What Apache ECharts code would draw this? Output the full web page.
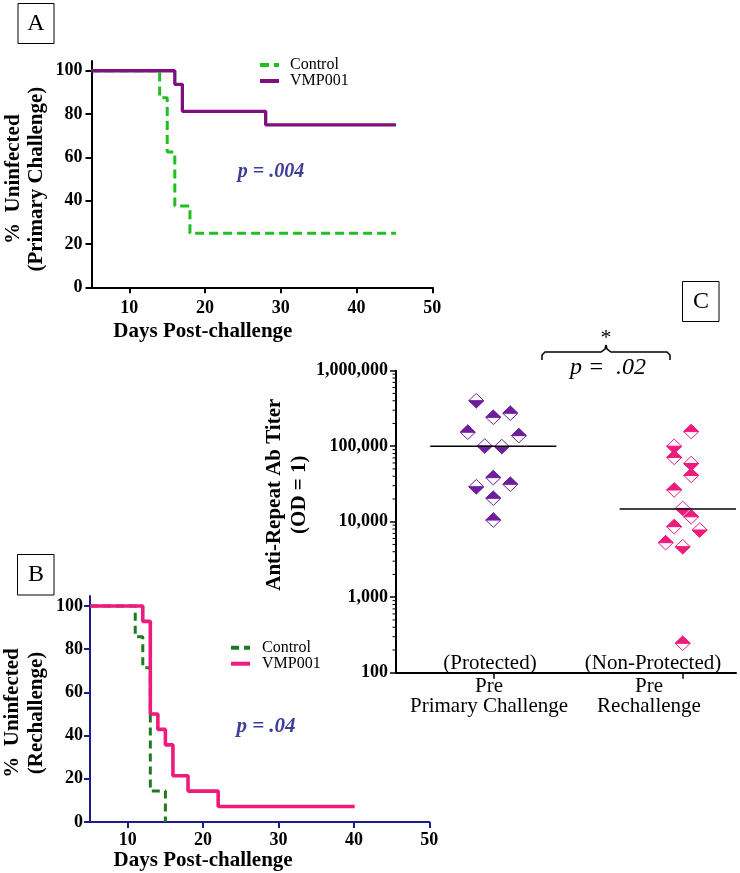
<!DOCTYPE html>
<html>
<head>
<meta charset="utf-8">
<script src="https://cdn.jsdelivr.net/npm/echarts@6/dist/echarts.min.js"></script>
<style>html,body{margin:0;padding:0;background:#fff}#c{width:740px;height:873px}</style>
</head>
<body>
<div id="c"></div>
<script>
// ---------- Panel A: primary challenge (Kaplan-Meier) ----------
const daysA_control = [5, 14, 15, 16, 18, 45.2];
const survA_control = [100, 87.5, 62.5, 37.5, 25, 25];
const daysA_vmp = [5, 16, 17, 28, 45.2];
const survA_vmp = [100, 93.75, 81.25, 75, 75];

// ---------- Panel B: rechallenge ----------
const daysB_control = [5, 11, 12, 13, 15];
const survB_control = [100, 85.71, 71.43, 14.29, 0];
const daysB_vmp = [5, 12, 13, 14, 15, 16, 18, 22, 40.1];
const survB_vmp = [100, 92.86, 50, 42.86, 35.71, 21.43, 14.29, 7.14, 7.14];

const survTicks = [0, 20, 40, 60, 80, 100];
const dayTicks = [10, 20, 30, 40, 50];
const pValueA = 'p = .004';
const pValueB = 'p = .04';

// ---------- Panel C: antibody titers ----------
const groupLabels = ['Pre\nPrimary Challenge', 'Pre\nRechallenge'];
const groupStatus = ['(Protected)', '(Non-Protected)'];
const titerProtected = [401000, 241000, 273000, 153000, 138000, 100700, 99000, 38300, 29100, 31300, 20400, 10500];
const slotProtected  = [-2, 0, 2, -3, 3, -1, 1, 0, -2, 2, 0, 0];
const halfProtected  = ['B', 'T', 'T', 'T', 'T', 'B', 'B', 'T', 'B', 'T', 'T', 'T'];
const titerNonProtected = [156000, 100000, 71000, 59000, 41000, 26300, 15000, 11600, 8600, 7760, 5270, 4670, 245];
const slotNonProtected  = [1, -1, -1, 1, 1, -1, 0, 1, -1, 2, -2, 0, 0];
const halfNonProtected  = ['T', 'B', 'T', 'B', 'T', 'T', 'B', 'T', 'T', 'B', 'T', 'B', 'T'];
const medianTiter = [100000, 14700];
const titerTicks = [100, 1000, 10000, 100000, 1000000];
const pValueC = 'p =  .02';

// ---------- styling ----------
const SERIF = "'Liberation Serif','Times New Roman',serif";
const C_PURPLE_LINE = '#7D107D';
const C_GREEN_A = '#1FBF1F';
const C_GREEN_B = '#1E7A1E';
const C_PINK = '#EE1A7C';
const C_PURPLE_MK = '#6E1E9C';
const C_PVAL = '#3E3E9A';
const C_NAVY = '#1C1C8C';
const SLOT_W = 0.0449;   // jitter step in category units
const MED_HALF = 0.333;  // half length of median bars in category units

const zip = (a, b) => a.map((v, i) => [v, b[i]]);

const minorTiter = [];
for (let k = 0; k < titerTicks.length - 1; k++) {
  for (let m = 2; m <= 9; m++) minorTiter.push(titerTicks[k] * m);
}

function diamondData(group, vals, slots, halves) {
  return vals.map((v, i) => [group + slots[i] * SLOT_W, v, halves[i] === 'T' ? 1 : 0]);
}

function diamondRender(color) {
  return function (params, api) {
    const p = api.coord([api.value(0), api.value(1)]);
    const w = 7.5, h = 7.2;
    const top = api.value(2) === 1;
    const half = top
      ? [[p[0] - w, p[1]], [p[0], p[1] - h], [p[0] + w, p[1]]]
      : [[p[0] - w, p[1]], [p[0], p[1] + h], [p[0] + w, p[1]]];
    return {
      type: 'group',
      children: [
        { type: 'polygon', shape: { points: [[p[0] - w, p[1]], [p[0], p[1] - h], [p[0] + w, p[1]], [p[0], p[1] + h]] },
          style: { fill: '#fff', stroke: color, lineWidth: 1 } },
        { type: 'polygon', shape: { points: half }, style: { fill: color, stroke: color, lineWidth: 1 } }
      ]
    };
  };
}

function medianRender(params, api) {
  const g = api.value(0), v = api.value(1);
  const a = api.coord([g - MED_HALF, v]);
  const b = api.coord([g + MED_HALF, v]);
  return { type: 'line', shape: { x1: a[0], y1: a[1], x2: b[0], y2: b[1] }, style: { stroke: '#000', lineWidth: 1.6 } };
}

function minorTickRender(params, api) {
  const p = api.coord([0.4863, api.value(0)]);
  return { type: 'line', shape: { x1: p[0] - 3.5, y1: p[1], x2: p[0], y2: p[1] }, style: { stroke: '#000', lineWidth: 1 } };
}

const tickLabelStyle = { fontFamily: SERIF, fontWeight: 'bold', fontSize: 18, color: '#000' };
const axisNameStyle = { fontFamily: SERIF, fontWeight: 'bold', fontSize: 21, color: '#000' };
const legendText = { fontFamily: SERIF, fontSize: 16, lineHeight: 16, color: '#000' };

const chart = echarts.init(document.getElementById('c'), null, { renderer: 'canvas' });

const option = {
  backgroundColor: '#fff',
  animation: false,
  grid: [
    { left: 91.5, top: 61, width: 340.8, height: 226.3 },
    { left: 89, top: 596, width: 340.3, height: 226 },
    { left: 396, top: 370.7, width: 340, height: 302 }
  ],
  xAxis: [
    { gridIndex: 0, type: 'value', min: 5, max: 50,
      axisLine: { lineStyle: { color: '#000', width: 2 } },
      axisTick: { customValues: dayTicks, length: 6, lineStyle: { color: '#000', width: 2 } },
      axisLabel: Object.assign({ customValues: dayTicks, margin: 12 }, tickLabelStyle),
      splitLine: { show: false },
      name: 'Days Post-challenge', nameLocation: 'middle', nameGap: 34,
      nameTextStyle: Object.assign({ padding: [0, 118, 0, 0] }, axisNameStyle) },
    { gridIndex: 1, type: 'value', min: 5, max: 50,
      axisLine: { lineStyle: { color: C_NAVY, width: 2 } },
      axisTick: { customValues: dayTicks, length: 6, lineStyle: { color: C_NAVY, width: 2 } },
      axisLabel: Object.assign({ customValues: dayTicks, margin: 9 }, tickLabelStyle),
      splitLine: { show: false },
      name: 'Days Post-challenge', nameLocation: 'middle', nameGap: 25,
      nameTextStyle: Object.assign({ padding: [0, 113, 0, 0] }, axisNameStyle) },
    { gridIndex: 2, type: 'value', min: 0.4863, max: 2.2815,
      axisLine: { lineStyle: { color: '#000', width: 2 } },
      axisTick: { customValues: [1, 2], length: 6, lineStyle: { color: '#000', width: 1.5 } },
      axisLabel: { show: false },
      splitLine: { show: false } }
  ],
  yAxis: [
    { gridIndex: 0, type: 'value', min: 0, max: 104.5,
      axisLine: { show: true, lineStyle: { color: '#000', width: 2 } },
      axisTick: { show: true, customValues: survTicks, length: 6, lineStyle: { color: '#000', width: 2 } },
      axisLabel: Object.assign({ customValues: survTicks, margin: 9 }, tickLabelStyle),
      splitLine: { show: false },
      name: '%  Uninfected\n(Primary Challenge)', nameLocation: 'middle', nameRotate: 90, nameGap: 43,
      nameTextStyle: Object.assign({ lineHeight: 23, padding: [0, 10, 0, 0] }, axisNameStyle) },
    { gridIndex: 1, type: 'value', min: 0, max: 104.6,
      axisLine: { show: true, lineStyle: { color: C_NAVY, width: 2 } },
      axisTick: { show: true, customValues: survTicks, length: 6, lineStyle: { color: C_NAVY, width: 2 } },
      axisLabel: Object.assign({ customValues: survTicks, margin: 7 }, tickLabelStyle),
      splitLine: { show: false },
      name: '%  Uninfected\n(Rechallenge)', nameLocation: 'middle', nameRotate: 90, nameGap: 41,
      nameTextStyle: Object.assign({ lineHeight: 24, padding: [0, 8, 0, 0] }, axisNameStyle) },
    { gridIndex: 2, type: 'log', logBase: 10, min: 100, max: 1000000,
      axisLine: { show: true, lineStyle: { color: '#000', width: 2 } },
      axisTick: { show: true, customValues: titerTicks, length: 6, lineStyle: { color: '#000', width: 1.5 } },
      axisLabel: Object.assign({ customValues: titerTicks, margin: 8,
        formatter: v => Number(v).toLocaleString('en-US') }, tickLabelStyle),
      splitLine: { show: false },
      name: 'Anti-Repeat Ab Titer\n(OD = 1)', nameLocation: 'middle', nameRotate: 90, nameGap: 57,
      nameTextStyle: Object.assign({ lineHeight: 25, padding: [0, 0, 0, 54] }, axisNameStyle) }
  ],
  legend: [
    { orient: 'vertical', left: 253, top: 52, itemWidth: 19, itemHeight: 14, itemGap: 0,
      data: ['Control', 'VMP001'],
      itemStyle: { opacity: 0 },
      lineStyle: { width: 4 },
      textStyle: Object.assign({ padding: [0, 0, 0, 6] }, legendText) },
    { orient: 'vertical', left: 224, top: 634.7, itemWidth: 19, itemHeight: 14, itemGap: 0,
      data: ['Control (B)', 'VMP001 (B)'],
      itemStyle: { opacity: 0 },
      lineStyle: { width: 4 },
      formatter: n => n.replace(' (B)', ''),
      textStyle: Object.assign({ padding: [0, 0, 0, 7] }, legendText) }
  ],
  series: [
    { type: 'line', name: 'Control', xAxisIndex: 0, yAxisIndex: 0, step: 'end', symbol: 'none',
      data: zip(daysA_control, survA_control), color: C_GREEN_A,
      lineStyle: { color: C_GREEN_A, width: 3, type: [9, 5] } },
    { type: 'line', name: 'VMP001', xAxisIndex: 0, yAxisIndex: 0, step: 'end', symbol: 'none',
      data: zip(daysA_vmp, survA_vmp), color: C_PURPLE_LINE,
      lineStyle: { color: C_PURPLE_LINE, width: 3.3 } },
    { type: 'line', name: 'Control (B)', xAxisIndex: 1, yAxisIndex: 1, step: 'end', symbol: 'none',
      data: zip(daysB_control, survB_control), color: C_GREEN_B,
      lineStyle: { color: C_GREEN_B, width: 3, type: [8, 5] } },
    { type: 'line', name: 'VMP001 (B)', xAxisIndex: 1, yAxisIndex: 1, step: 'end', symbol: 'none',
      data: zip(daysB_vmp, survB_vmp), color: C_PINK,
      lineStyle: { color: C_PINK, width: 3.6 } },
    { type: 'custom', name: 'Protected', xAxisIndex: 2, yAxisIndex: 2, clip: true,
      renderItem: diamondRender(C_PURPLE_MK), encode: { x: 0, y: 1 },
      data: diamondData(1, titerProtected, slotProtected, halfProtected) },
    { type: 'custom', name: 'Non-Protected', xAxisIndex: 2, yAxisIndex: 2, clip: true,
      renderItem: diamondRender(C_PINK), encode: { x: 0, y: 1 },
      data: diamondData(2, titerNonProtected, slotNonProtected, halfNonProtected) },
    { type: 'custom', name: 'Median', xAxisIndex: 2, yAxisIndex: 2, clip: true, z: 5,
      renderItem: medianRender, encode: { x: 0, y: 1 },
      data: medianTiter.map((v, i) => [i + 1, v]) },
    { type: 'custom', name: 'MinorTicks', xAxisIndex: 2, yAxisIndex: 2, clip: false, silent: true,
      renderItem: minorTickRender, encode: { y: 0 },
      data: minorTiter.map(v => [v]) }
  ],
  graphic: [
    { type: 'rect', shape: { x: 18, y: 3.5, width: 36, height: 40 }, style: { fill: '#fff', stroke: '#000', lineWidth: 1 } },
    { type: 'text', style: { text: 'A', x: 36, y: 24, font: '24px ' + SERIF, fill: '#000', align: 'center', verticalAlign: 'middle' } },
    { type: 'rect', shape: { x: 17.5, y: 554.5, width: 36.5, height: 40.5 }, style: { fill: '#fff', stroke: '#000', lineWidth: 1 } },
    { type: 'text', style: { text: 'B', x: 36, y: 575, font: '24px ' + SERIF, fill: '#000', align: 'center', verticalAlign: 'middle' } },
    { type: 'rect', shape: { x: 682.5, y: 281.5, width: 36.5, height: 40 }, style: { fill: '#fff', stroke: '#000', lineWidth: 1 } },
    { type: 'text', style: { text: 'C', x: 701, y: 302, font: '24px ' + SERIF, fill: '#000', align: 'center', verticalAlign: 'middle' } },
    { type: 'text', style: { text: pValueA, x: 271, y: 172, font: 'italic bold 20px ' + SERIF, fill: C_PVAL, align: 'center', verticalAlign: 'middle' } },
    { type: 'text', style: { text: pValueB, x: 266, y: 727, font: 'italic bold 21px ' + SERIF, fill: C_PVAL, align: 'center', verticalAlign: 'middle' } },
    { type: 'polyline', shape: { points: [[542, 360], [542, 355], [545, 352], [601, 352], [605, 349], [606, 345]] },
      style: { fill: 'none', stroke: '#000', lineWidth: 1.5 } },
    { type: 'polyline', shape: { points: [[670, 360], [670, 355], [667, 352], [611, 352], [607, 349], [606, 345]] },
      style: { fill: 'none', stroke: '#000', lineWidth: 1.5 } },
    { type: 'text', style: { text: '*', x: 606, y: 338, font: '22px ' + SERIF, fill: '#000', align: 'center', verticalAlign: 'middle' } },
    { type: 'text', style: { text: pValueC, x: 608, y: 368, font: 'italic 24px ' + SERIF, fill: '#000', align: 'center', verticalAlign: 'middle' } },
    { type: 'text', style: { text: groupStatus[0], x: 490, y: 663, font: '21px ' + SERIF, fill: '#000', align: 'center', verticalAlign: 'middle' } },
    { type: 'text', style: { text: groupStatus[1], x: 653, y: 663, font: '21px ' + SERIF, fill: '#000', align: 'center', verticalAlign: 'middle' } },
    { type: 'text', style: { text: groupLabels[0], x: 489, y: 696, font: '21px ' + SERIF, lineHeight: 20, fill: '#000', align: 'center', verticalAlign: 'middle' } },
    { type: 'text', style: { text: groupLabels[1], x: 649, y: 696, font: '21px ' + SERIF, lineHeight: 20, fill: '#000', align: 'center', verticalAlign: 'middle' } }
  ]
};

chart.setOption(option);
</script>
</body>
</html>
